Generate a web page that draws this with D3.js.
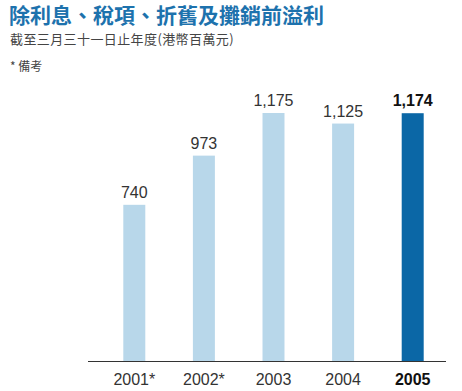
<!DOCTYPE html>
<html>
<head>
<meta charset="UTF-8">
<title></title>
<script src="https://cdnjs.cloudflare.com/ajax/libs/d3/7.8.5/d3.min.js"></script>
<style>
  body { margin: 0; background: #fff; }
</style>
</head>
<body>
<script>

var years = ["2001*", "2002*", "2003", "2004", "2005"];
var values = [740, 973, 1175, 1125, 1174];
var barColors = ["#b8d7ea", "#b8d7ea", "#b8d7ea", "#b8d7ea", "#0b67a6"];

var cjk = "'Noto Sans CJK TC', 'Noto Sans CJK SC', sans-serif";
var num = "'Liberation Sans', Arial, sans-serif";

var svg = d3.select("body").append("svg")
    .attr("width", 462)
    .attr("height", 391);

// titles
svg.append("text")
    .attr("x", 9).attr("y", 23)
    .attr("font-family", cjk)
    .attr("font-size", 21)
    .attr("font-weight", "bold")
    .attr("fill", "#1d72ad")
    .text("除利息、稅項、折舊及攤銷前溢利");

svg.append("text")
    .attr("x", 10).attr("y", 44)
    .attr("font-family", cjk)
    .attr("font-size", 13)
    .attr("letter-spacing", 0.4)
    .attr("fill", "#444")
    .text("截至三月三十一日止年度(港幣百萬元)");

svg.append("text")
    .attr("x", 10).attr("y", 71)
    .attr("font-family", cjk)
    .attr("font-size", 12)
    .attr("fill", "#444")
    .text("* 備考");

var x = d3.scaleBand()
    .domain(years)
    .range([99.5, 447.5])
    .paddingInner(0.684)
    .paddingOuter(0.342);

var y = d3.scaleLinear()
    .domain([0, 1175])
    .range([361, 113]);

var g = svg.append("g");

g.selectAll("rect")
    .data(values)
    .enter()
    .append("rect")
    .attr("x", function(d, i) { return x(years[i]); })
    .attr("y", function(d) { return y(d); })
    .attr("width", x.bandwidth())
    .attr("height", function(d) { return y(0) - y(d); })
    .attr("fill", function(d, i) { return barColors[i]; });

g.selectAll("text.val")
    .data(values)
    .enter()
    .append("text")
    .attr("class", "val")
    .attr("x", function(d, i) { return x(years[i]) + x.bandwidth() / 2; })
    .attr("y", function(d) { return y(d) - 7; })
    .attr("text-anchor", "middle")
    .attr("font-family", num)
    .attr("font-size", 16)
    .attr("font-weight", function(d, i) { return i == values.length - 1 ? "bold" : "normal"; })
    .attr("fill", function(d, i) { return i == values.length - 1 ? "#111" : "#333"; })
    .text(function(d) { return d3.format(",")(d); });

// baseline
svg.append("line")
    .attr("x1", 88).attr("x2", 446)
    .attr("y1", y(0) + 0.5).attr("y2", y(0) + 0.5)
    .attr("stroke", "#333")
    .attr("stroke-width", 1);

g.selectAll("text.yr")
    .data(years)
    .enter()
    .append("text")
    .attr("class", "yr")
    .attr("x", function(d) { return x(d) + x.bandwidth() / 2; })
    .attr("y", 385)
    .attr("text-anchor", "middle")
    .attr("font-family", num)
    .attr("font-size", 16)
    .attr("font-weight", function(d, i) { return i == years.length - 1 ? "bold" : "normal"; })
    .attr("fill", function(d, i) { return i == years.length - 1 ? "#111" : "#333"; })
    .text(function(d) { return d; });

</script>
</body>
</html>
